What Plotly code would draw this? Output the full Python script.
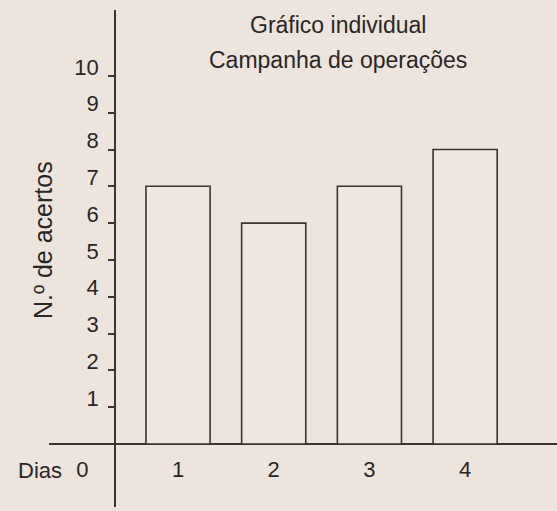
import plotly.graph_objects as go

# Data
dias = [1, 2, 3, 4]
acertos = [7, 6, 7, 8]
x_tick_vals = [0, 1, 2, 3, 4]
x_tick_text = ["0", "1", "2", "3", "4"]
y_tick_vals = [1, 2, 3, 4, 5, 6, 7, 8, 9, 10]
y_tick_text = ["1", "2", "3", "4", "5", "6", "7", "8", "9", "10"]
title_lines = ["Gráfico individual", "Campanha de operações"]
y_title = "N.º de acertos"
x_title = "Dias"

BG = "#eee4de"
INK = "#3a3331"
TXT = "#2a2625"
FONT = "Liberation Sans"

fig = go.Figure()
fig.add_trace(go.Bar(
    x=dias, y=acertos, width=0.67,
    marker=dict(color="#efe7e1", line=dict(color=INK, width=1.6)),
    hoverinfo="x+y", showlegend=False,
))

fig.update_layout(
    width=557, height=511,
    margin=dict(l=49, r=0, t=10, b=4),
    paper_bgcolor=BG, plot_bgcolor=BG,
    font=dict(family=FONT, color=TXT, size=22),
    xaxis=dict(
        range=[-0.348, 4.96], anchor="free", position=0.1268,
        showline=False, showgrid=False, zeroline=False, ticks="",
        tickmode="array", tickvals=x_tick_vals, ticktext=x_tick_text,
        tickfont=dict(family=FONT, size=22, color=TXT),
        ticklabelstandoff=10,
    ),
    yaxis=dict(
        range=[-1.712, 11.79], anchor="free", position=0.1299,
        showline=True, linecolor=INK, linewidth=1.6,
        showgrid=False, zeroline=True, zerolinecolor=INK, zerolinewidth=1.6,
        ticks="outside", ticklen=6, tickwidth=1.6, tickcolor=INK,
        tickmode="array", tickvals=y_tick_vals, ticktext=y_tick_text,
        tickfont=dict(family=FONT, size=22, color=TXT),
        ticklabelstandoff=5, ticklabelshift=-9,
    ),
    bargap=0.3,
)

fig.add_annotation(text=title_lines[0], xref="paper", yref="paper",
                   x=0.569, y=0.9698, xanchor="center", yanchor="middle",
                   showarrow=False, font=dict(family=FONT, size=23, color=TXT))
fig.add_annotation(text=title_lines[1], xref="paper", yref="paper",
                   x=0.569, y=0.8994, xanchor="center", yanchor="middle",
                   showarrow=False, font=dict(family=FONT, size=23, color=TXT))
fig.add_annotation(text=x_title, xref="paper", yref="paper",
                   x=-0.0177, y=0.0744, xanchor="center", yanchor="middle",
                   showarrow=False, font=dict(family=FONT, size=22, color=TXT))
fig.add_annotation(text=y_title, xref="paper", yref="paper",
                   x=-0.0118, y=0.537, xanchor="center", yanchor="middle",
                   textangle=-90, showarrow=False,
                   font=dict(family=FONT, size=25, color=TXT))

fig.write_html("out.html", config={"displayModeBar": False},
               post_script="document.body.style.margin='0';document.body.style.background='" + BG + "';")
